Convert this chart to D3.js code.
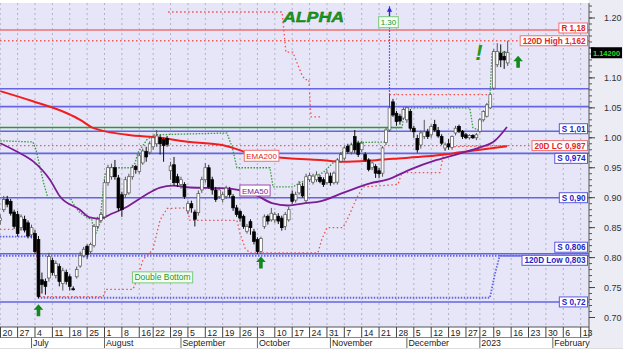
<!DOCTYPE html>
<html><head><meta charset="utf-8">
<script src="https://cdn.jsdelivr.net/npm/d3@7/dist/d3.min.js"></script>
<style>
html,body{margin:0;padding:0;background:#fff;}
svg{display:block;font-family:"Liberation Sans",Arial,sans-serif;}
</style></head><body>
<svg id="chart" width="630" height="357"></svg>
<script>
// ---------- DATA ----------
const opens = [.862,.880,.897,.894,.876,.872,.850,.864,.858,.838,
.840,.830,.763,.760,.766,.795,.770,.785,.757,.775,
.768,.748,.768,.786,.803,.819,.810,.820,.852,.862,
.868,.925,.935,.950,.933,.905,.905,.908,.935,.952,
.944,.958,.977,.976,.985,.990,1.000,.997,.999,.945,
.955,.935,.922,.922,.878,.890,.876,.875,.913,.930,
.950,.930,.913,.902,.897,.902,.913,.902,.883,.877,
.869,.844,.860,.843,.830,.810,.852,.869,.863,.863,
.869,.866,.852,.863,.906,.896,.908,.919,.895,.930,
.926,.930,.934,.930,.925,.936,.925,.926,.961,.966,
.986,.976,1.002,.991,.980,.972,.963,.950,.952,.945,
.941,.992,1.013,1.060,1.041,1.036,1.033,1.030,1.044,1.016,
.999,.988,1.002,1.010,1.005,1.022,1.012,1.002,.983,.990,
.984,1.008,1.019,1.011,1.005,1.000,1.004,1.000,1.011,1.030,
1.036,1.050,1.083,1.122,1.141,1.136,1.125];
const highs = [.872,.903,.903,.898,.880,.878,.872,.870,.862,.855,
.846,.836,.775,.765,.808,.800,.795,.790,.783,.780,
.772,.752,.785,.810,.818,.822,.825,.856,.868,.876,
.930,.955,.957,.963,.938,.910,.935,.940,.955,.955,
.975,.982,.985,.994,1.005,1.013,1.005,1.000,1.003,.960,
.968,.940,.935,.926,.895,.895,.880,.912,.935,.958,
.955,.935,.918,.918,.910,.920,.918,.906,.888,.880,
.872,.856,.864,.848,.834,.835,.872,.872,.883,.876,
.874,.870,.876,.885,.912,.910,.928,.925,.940,.942,
.940,.944,.938,.934,.946,.942,.944,.966,.976,.986,
.990,.992,1.013,.995,.995,.976,.966,.960,.956,.950,
.986,1.016,1.072,1.065,1.045,1.040,1.051,1.052,1.048,1.020,
1.005,1.012,1.030,1.015,1.022,1.030,1.018,1.006,.992,.998,
1.004,1.020,1.022,1.013,1.008,1.006,1.006,1.008,1.033,1.046,
1.058,1.074,1.148,1.158,1.156,1.145,1.162];
const lows = [.855,.876,.884,.870,.848,.835,.845,.842,.832,.832,
.806,.732,.740,.738,.760,.770,.765,.752,.745,.755,
.745,.745,.765,.783,.800,.798,.806,.817,.848,.858,
.865,.920,.930,.930,.878,.868,.900,.905,.930,.940,
.940,.955,.960,.972,.980,.985,.972,.960,.985,.930,
.920,.918,.915,.898,.873,.875,.852,.870,.908,.925,
.915,.905,.893,.898,.892,.898,.900,.878,.868,.860,
.848,.840,.838,.822,.806,.806,.848,.855,.860,.858,
.856,.845,.846,.860,.890,.892,.905,.900,.890,.926,
.922,.926,.924,.918,.922,.920,.922,.922,.958,.962,
.974,.972,.975,.968,.976,.960,.944,.946,.933,.933,
.935,.988,1.010,1.035,1.020,1.022,1.030,1.025,1.012,1.000,
.975,.982,.998,.998,1.000,1.010,1.000,.988,.978,.980,
.980,1.004,1.008,.998,.998,.997,.998,.996,1.008,1.027,
1.034,1.048,1.080,1.118,1.118,1.115,1.120];
const closes = [.866,.897,.889,.874,.852,.840,.868,.846,.836,.850,
.810,.735,.755,.752,.802,.775,.790,.760,.778,.760,
.752,.747,.780,.803,.814,.805,.822,.852,.864,.872,
.925,.950,.950,.935,.883,.880,.930,.935,.950,.947,
.970,.978,.968,.990,1.000,1.003,.990,.987,.989,.953,
.925,.925,.930,.902,.890,.883,.864,.907,.930,.950,
.918,.913,.897,.913,.905,.916,.905,.883,.872,.866,
.852,.852,.850,.827,.810,.832,.868,.861,.874,.872,
.861,.850,.872,.880,.894,.905,.922,.903,.935,.937,
.936,.938,.927,.922,.941,.925,.941,.963,.972,.983,
.977,.988,.980,.972,.991,.963,.947,.958,.941,.940,
.983,1.013,1.050,1.038,1.027,1.028,1.047,1.050,1.016,1.010,
.980,1.008,1.010,1.002,1.019,1.013,1.003,.991,.988,.985,
1.002,1.016,1.011,1.002,1.000,1.004,1.000,1.005,1.030,1.044,
1.055,1.072,1.144,1.144,1.130,1.130,1.142];
const lastPrice = "1.14200";

// trading calendar
const firstDay = "2022-06-20", lastAxisDay = "2023-02-17";
const holidays = ["2022-08-15","2022-12-26","2023-01-06"];
const weekTickDates = ["2022-06-20","2022-06-27","2022-07-04","2022-07-11","2022-07-18","2022-07-25","2022-08-01","2022-08-08","2022-08-16","2022-08-22","2022-08-29","2022-09-05","2022-09-12","2022-09-19","2022-09-26","2022-10-03","2022-10-10","2022-10-17","2022-10-24","2022-10-31","2022-11-07","2022-11-14","2022-11-21","2022-11-28","2022-12-05","2022-12-12","2022-12-19","2022-12-27","2023-01-02","2023-01-09","2023-01-16","2023-01-23","2023-01-30","2023-02-06","2023-02-13"];
const weekTickLabels = ["20","27","4","11","18","25","1","8","16","22","29","5","12","19","26","3","10","17","24","31","7","14","21","28","5","12","19","27","2","9","16","23","30","6","13"];
const monthDates = ["2022-07-01","2022-08-01","2022-09-01","2022-10-03","2022-11-01","2022-12-01","2023-01-02","2023-02-01"];
const monthLabels = ["July","August","September","October","November","December","2023","February"];
const priceTicks = [0.70,0.75,0.80,0.85,0.90,0.95,1.00,1.05,1.10,1.15,1.20];

// indicator lines, read as [day index, value]
const ema200 = [[0,1.078],[9.4,1.061],[19.2,1.041],[23,1.030],[26.5,1.017],[36.5,1.005],[46,1.0],[54.6,.993],[63.8,.988],[73.3,.972],[82.8,.966],[92,.963],[98.6,.960],[106.4,.962],[113,.965],[122.8,.969],[130.3,.974],[138,.980],[145.8,.986]];
const ema50 = [[0,.991],[4.8,.977],[9.4,.961],[14.3,.930],[17.2,.902],[22.9,.880],[25.8,.867],[28.7,.865],[31.6,.872],[36.5,.885],[41.1,.902],[46,.917],[49.7,.920],[54.6,.917],[63.8,.916],[68.4,.913],[73.3,.905],[78.2,.891],[82.8,.887],[87.7,.891],[92,.894],[98.6,.908],[106.4,.924],[111.3,.930],[117.9,.947],[125.6,.963],[132.3,.974],[138,.984],[142.3,.995],[145.8,1.018]];
const greenStop = [[0,.995],[9.4,.993],[10.3,.980],[11.4,.952],[12.6,.922],[13.7,.900],[20.1,.900],[21.5,.885],[22.9,.875],[25,.867],[26.4,.863],[27,.835],[27.8,.843],[28.7,.860],[29.6,.913],[30.1,.937],[31,.950],[37.9,.950],[38.8,.958],[39.6,.975],[40.8,.985],[42.2,.997],[44.5,1.005],[65.2,1.008],[66.7,.985],[68.1,.950],[77.6,.950],[78.5,.918],[84.2,.918],[86.2,.925],[88.3,.930],[92.9,.942],[95.7,.958],[97.7,.967],[98.6,.977],[100.6,.988],[102.6,.992],[110.7,.993],[111.3,1.017],[115.6,1.017],[116.4,1.050],[135.1,1.050],[136,1.017],[137.4,1.013],[138.6,1.030],[140,1.047],[140.9,1.068],[141.5,1.142],[146.1,1.143]];
const lowStop = [[-0.1,.847],[9.4,.847],[10.2,.830],[10.9,.780],[11.4,.735],[29.6,.735],[30.4,.747],[38.2,.747],[39.3,.763],[41.1,.797],[43.9,.813],[46,.863],[48,.882],[53.7,.883],[54.6,.862],[68.1,.862],[69,.840],[70.5,.815],[71.9,.808],[91.4,.808],[92.5,.830],[94,.850],[98.6,.850],[99.8,.863],[102.6,.900],[104.4,.918],[114.4,.922],[115.6,.942],[126.5,.942],[127.4,.968],[128.2,.985],[146.1,.987]];
const highStopA = [[48.3,1.21],[81.1,1.21],[82.2,1.143],[84.2,1.143],[85.4,1.125],[86.8,1.105],[87.7,1.097],[88.8,1.097],[89.4,1.035],[92.3,1.035]];
const highStopB = [[112,1.072],[140.9,1.072]];
const lowWindowA = [[-0.1,.835],[9.6,.835]];
const lowWindowB = [[10.8,.733],[140.9,.733],[142.3,.772],[143.7,.803],[169.4,.803]];
const greenLine = [[-0.1,1.017],[115.6,1.017]];
const breakoutLine = [[112,1.072],[112,1.222]];

const levelValues = [1.18,1.162,1.082,1.052,1.011,0.987,0.974,0.90,0.8065,0.803,0.726];
const levelLabels = ["R 1,18","120D High 1,162","","","S 1,01","20D LC 0,987","S 0,974","S 0,90","S 0,806","120D Low 0,803","S 0,72"];
const levelTypes = ["resistance","high","support","support","support","lowclose","support","support","support","low","support"];

const noteTexts = ["EMA200","EMA50","Double Bottom","1.30"];
const noteAnchors = [[75.2,.970],[73.3,.912],[46.7,.767],[111.7,1.193]];
const noteTypes = ["ema200","ema50","green","green"];
const arrowAnchors = [[11,.722],[75,.802],[149,1.137]];

// ---------- STYLE ----------
const C = {
  plotBg:"#e6e6f8", grid:"#b2b2c4", blue:"#6464e4", blueText:"#2424c8",
  red:"#f06464", redText:"#e02828", green:"#2a9a2a", purple:"#7c1d96",
  emaRed:"#f21e1e", arrow:"#12891a"
};
const levelStyle = {
  resistance:{stroke:"#f07070",dash:null,w:1.5,text:C.redText,border:"#f07070"},
  high:{stroke:"#f05a5a",dash:"1.5,2.5",w:1.4,text:C.redText,border:"#f07070"},
  lowclose:{stroke:"#f05a5a",dash:"1.5,2.5",w:1.4,text:C.redText,border:"#f07070"},
  support:{stroke:C.blue,dash:null,w:1.6,text:C.blueText,border:"#5a5ae0"},
  low:{stroke:C.blue,dash:"1.5,1.5",w:2,text:C.blueText,border:"#5a5ae0"}
};
const labelShift = {"R 1,18":-2,"S 1,01":-2.5,"S 0,974":5,"S 0,806":-6.5,"120D Low 0,803":4.5};
const noteStyle = {
  ema200:{text:"#e02828",border:"#f07070",fill:"#fff"},
  ema50:{text:"#7c1d96",border:"#9a4ab0",fill:"#fff"},
  green:{text:"#2a962a",border:"#7cc87c",fill:"#f2fff2"}
};

// ---------- SCALES ----------
const PL=0, PR=589, PT=3, PB=327;
const DAY=864e5;
const toUTC = s => { const [a,b,c]=s.split("-").map(Number); return Date.UTC(a,b-1,c); };
const tradingDays=[];
for(let t=toUTC(firstDay); t<=toUTC(lastAxisDay); t+=DAY){
  const d=new Date(t), wd=d.getUTCDay();
  if(wd===0||wd===6) continue;
  const s=d.toISOString().slice(0,10);
  if(holidays.includes(s)) continue;
  tradingDays.push(s);
}
const idxOf = s => tradingDays.indexOf(s);
const x = d3.scaleLinear().domain([-0.07,169.4]).range([PL,PR]);
const y = d3.scaleLinear().domain([0.70,1.20]).range([317.5,18]);

const svg = d3.select("#chart");
svg.append("rect").attr("width",630).attr("height",357).attr("fill","#fff");
svg.append("rect").attr("x",PR).attr("y",0).attr("width",34).attr("height",349).attr("fill","#ececf4");
svg.append("rect").attr("x",PL).attr("y",PT).attr("width",PR-PL).attr("height",PB-PT).attr("fill",C.plotBg);

svg.append("clipPath").attr("id","clip").append("rect").attr("x",PL).attr("y",PT).attr("width",PR-PL).attr("height",PB-PT);
const g = svg.append("g").attr("clip-path","url(#clip)");

// grid
g.selectAll(".vg").data(weekTickDates).join("line")
  .attr("x1",d=>x(idxOf(d))).attr("x2",d=>x(idxOf(d))).attr("y1",PT).attr("y2",PB)
  .attr("stroke",C.grid).attr("stroke-width",1).attr("stroke-dasharray","2,3");

const line = d3.line().x(d=>x(d[0])).y(d=>y(d[1]));

// levels
levelValues.forEach((v,i)=>{
  const st=levelStyle[levelTypes[i]];
  g.append("line").attr("x1",PL).attr("x2",PR).attr("y1",y(v)).attr("y2",y(v))
   .attr("stroke",st.stroke).attr("stroke-width",st.w).attr("stroke-dasharray",st.dash);
});
g.append("path").attr("d",line(greenLine)).attr("fill","none").attr("stroke",C.green).attr("stroke-width",1.5);

// dotted step lines
const dotted=(data,color,w,dash)=>g.append("path").attr("d",line(data)).attr("fill","none")
  .attr("stroke",color).attr("stroke-width",w).attr("stroke-dasharray",dash);
dotted(lowWindowA,C.blue,1.8,"1.5,1.5");
dotted(lowWindowB,C.blue,1.8,"1.5,1.5");
dotted(lowStop,"#f05050",1.3,"1.5,2.5");
dotted(highStopA,"#f05050",1.3,"1.5,2.5");
dotted(highStopB,"#f05050",1.3,"1.5,2.5");
dotted(greenStop,"#3a9a3a",1.3,"1.5,1.5");

// EMAs
const curve = d3.line().x(d=>x(d[0])).y(d=>y(d[1])).curve(d3.curveMonotoneX);
g.append("path").attr("d",curve(ema200)).attr("fill","none").attr("stroke",C.emaRed).attr("stroke-width",2);
g.append("path").attr("d",curve(ema50)).attr("fill","none").attr("stroke",C.purple).attr("stroke-width",1.8);

// breakout dotted vertical
g.append("path").attr("d",line(breakoutLine)).attr("stroke","#3a3ae8").attr("stroke-width",1.2).attr("stroke-dasharray","1.5,1.5").attr("fill","none");
const bx = x(breakoutLine[1][0]), by = y(1.212);
g.append("path").attr("d",`M${bx},${by-4}L${bx-2.6},${by+1}L${bx+2.6},${by+1}Z`).attr("fill","#2a2ad8");
g.append("line").attr("x1",bx).attr("x2",bx).attr("y1",by).attr("y2",by+6).attr("stroke","#2a2ad8").attr("stroke-width",1.3);

// candles
const candles = closes.map((c,i)=>({i,o:opens[i],h:highs[i],l:lows[i],c}));
const bw = 2.8;
const cg = g.append("g");
cg.selectAll("line").data(candles).join("line")
  .attr("x1",d=>x(d.i)).attr("x2",d=>x(d.i)).attr("y1",d=>y(d.h)).attr("y2",d=>y(d.l))
  .attr("stroke",d=>d.c>=d.o?"#555":"#111").attr("stroke-width",1);
cg.selectAll("rect").data(candles).join("rect")
  .attr("x",d=>x(d.i)-bw/2).attr("width",bw)
  .attr("y",d=>y(Math.max(d.o,d.c)))
  .attr("height",d=>Math.max(1,y(Math.min(d.o,d.c))-y(Math.max(d.o,d.c))))
  .attr("fill",d=>d.c>=d.o?"#fff":"#000")
  .attr("stroke",d=>d.c>=d.o?"#555":"#000").attr("stroke-width",0.7);

// notes
noteTexts.forEach((t,i)=>{
  const st=noteStyle[noteTypes[i]];
  const cx=x(noteAnchors[i][0]), cy=y(noteAnchors[i][1]);
  const gg=svg.append("g");
  const r=gg.append("rect");
  const tx=gg.append("text").attr("x",cx).attr("y",cy+3).attr("text-anchor","middle")
    .attr("font-size",t==="Double Bottom"?8.5:8).attr("fill",st.text).text(t);
  const w=tx.node().getComputedTextLength();
  r.attr("x",cx-w/2-2).attr("y",cy-5.5).attr("width",w+4).attr("height",11)
   .attr("fill",st.fill).attr("stroke",st.border).attr("stroke-width",1);
});

// arrows
arrowAnchors.forEach(a=>{
  const ax=x(a[0]), ay=y(a[1]);
  svg.append("path").attr("d",`M${ax},${ay}L${ax-4.8},${ay+5.5}L${ax-1.8},${ay+5.5}L${ax-1.8},${ay+12}L${ax+1.8},${ay+12}L${ax+1.8},${ay+5.5}L${ax+4.8},${ay+5.5}Z`)
    .attr("fill",C.arrow);
});
// exclamation
svg.append("text").attr("x",x(137.7)).attr("y",y(1.130)).attr("text-anchor","middle")
  .attr("font-size",22).attr("font-weight","bold").attr("font-style","italic")
  .attr("fill","#1f9a1f").text("!");

// title
svg.append("text").attr("x",283).attr("y",22).attr("font-size",15).attr("font-weight","bold")
  .attr("font-style","italic").attr("fill","#1a9a1a").attr("stroke","#0b5e0b").attr("stroke-width",0.35)
  .attr("textLength",61).attr("lengthAdjust","spacingAndGlyphs").text("ALPHA");

// level labels
levelValues.forEach((v,i)=>{
  const t=levelLabels[i]; if(!t) return;
  const st=levelStyle[levelTypes[i]];
  const cy=y(v)+(labelShift[t]||0);
  const gg=svg.append("g");
  const r=gg.append("rect");
  const tx=gg.append("text").attr("x",585.5).attr("y",cy+3).attr("text-anchor","end")
    .attr("font-size",8.2).attr("font-weight","bold").attr("fill",st.text).text(t);
  const w=tx.node().getComputedTextLength();
  r.attr("x",585.5-w-2.5).attr("y",cy-5).attr("width",w+4.5).attr("height",10)
   .attr("fill","#fff").attr("stroke",st.border).attr("stroke-width",1);
});

// right axis
const lp = closes[closes.length-1];
const lpY = y(lp);
svg.append("line").attr("x1",PR).attr("x2",PR).attr("y1",PT).attr("y2",PB).attr("stroke","#555");
const minor = d3.range(70,123).map(v=>v/100);
svg.selectAll(".mt").data(minor).join("line").attr("x1",PR).attr("x2",PR+3)
  .attr("y1",d=>y(d)).attr("y2",d=>y(d)).attr("stroke","#555");
svg.selectAll(".Mt").data(priceTicks).join("line").attr("x1",PR).attr("x2",PR+6)
  .attr("y1",d=>y(d)).attr("y2",d=>y(d)).attr("stroke","#444");
// tick labels hidden under the last-price box are not drawn (as in the reference)
svg.selectAll(".tl").data(priceTicks.filter(d=>Math.abs(y(d)-lpY)>9)).join("text").attr("x",604).attr("y",d=>y(d)+3.2)
  .attr("font-size",9).attr("fill","#333").text(d=>d3.format(".2f")(d));
// last price box
svg.append("rect").attr("x",591).attr("y",lpY-5.5).attr("width",31).attr("height",11).attr("fill","#000");
svg.append("text").attr("x",606.5).attr("y",lpY+2.8).attr("text-anchor","middle").attr("font-size",7.5)
  .attr("font-weight","bold").attr("fill","#22e022").text(lastPrice);

// bottom axis
svg.append("rect").attr("x",PL).attr("y",PB).attr("width",PR-PL).attr("height",21).attr("fill","#fff");
svg.append("line").attr("x1",PL).attr("x2",PR).attr("y1",PB).attr("y2",PB).attr("stroke","#555");
svg.append("line").attr("x1",PL).attr("x2",PR).attr("y1",337.5).attr("y2",337.5).attr("stroke","#888");
svg.append("line").attr("x1",PL).attr("x2",PR+34).attr("y1",348.5).attr("y2",348.5).attr("stroke","#ddd");
weekTickDates.forEach((d,i)=>{
  const xx=Math.max(0.5,x(idxOf(d)));
  svg.append("line").attr("x1",xx).attr("x2",xx).attr("y1",PB).attr("y2",337.5).attr("stroke","#444");
  svg.append("text").attr("x",xx+2).attr("y",335.5).attr("font-size",8.8).attr("fill","#222").text(weekTickLabels[i]);
});
svg.append("line").attr("x1",PR).attr("x2",PR).attr("y1",PB).attr("y2",337.5).attr("stroke","#444");
monthDates.forEach((d,i)=>{
  const xx=x(idxOf(d));
  svg.append("line").attr("x1",xx).attr("x2",xx).attr("y1",337.5).attr("y2",348).attr("stroke","#666");
  svg.append("text").attr("x",xx+1.5).attr("y",346).attr("font-size",8.8).attr("fill","#222").text(monthLabels[i]);
});
</script></body></html>
